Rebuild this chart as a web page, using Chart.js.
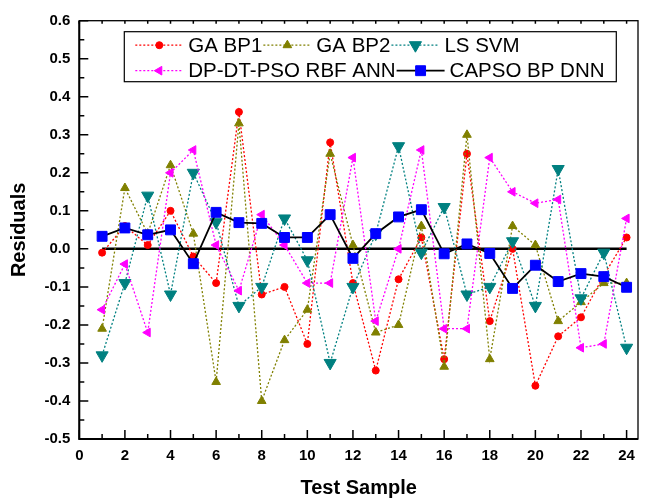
<!DOCTYPE html>
<html>
<head>
<meta charset="utf-8">
<script src="https://cdn.jsdelivr.net/npm/chart.js@4.4.1/dist/chart.umd.min.js"></script>
<style>
    html, body { margin: 0; padding: 0; background: #fff; }
    #wrap { width: 646px; height: 498px; }
</style>
</head>
<body>
<div id="wrap"><canvas id="residualChart" width="646" height="498"></canvas></div>
<script>
var testSamples = [1, 2, 3, 4, 5, 6, 7, 8, 9, 10, 11, 12, 13, 14, 15, 16, 17, 18, 19, 20, 21, 22, 23, 24];
var gaBp1 = [-0.01, 0.06, 0.01, 0.10, -0.02, -0.09, 0.36, -0.12, -0.10, -0.25, 0.28, -0.09, -0.32, -0.08, 0.03, -0.29, 0.25, -0.19, 0.00, -0.36, -0.23, -0.18, -0.07, 0.03];
var gaBp2 = [-0.21, 0.16, 0.04, 0.22, 0.04, -0.35, 0.33, -0.40, -0.24, -0.16, 0.25, 0.01, -0.22, -0.20, 0.06, -0.31, 0.30, -0.29, 0.06, 0.01, -0.19, -0.14, -0.09, -0.09];
var lsSvm = [-0.28, -0.09, 0.14, -0.12, 0.20, 0.07, -0.15, -0.10, 0.08, -0.03, -0.30, -0.10, 0.04, 0.27, -0.01, 0.11, -0.12, -0.10, 0.02, -0.15, 0.21, -0.13, -0.01, -0.26];
var dpDtPso = [-0.16, -0.04, -0.22, 0.20, 0.26, 0.01, -0.11, 0.09, 0.01, -0.09, -0.09, 0.24, -0.19, 0.00, 0.26, -0.21, -0.21, 0.24, 0.15, 0.12, 0.13, -0.26, -0.25, 0.08];
var capsoBpDnn = [0.033, 0.055, 0.037, 0.05, -0.039, 0.096, 0.069, 0.067, 0.03, 0.03, 0.09, -0.025, 0.04, 0.084, 0.103, -0.013, 0.013, -0.012, -0.104, -0.043, -0.086, -0.065, -0.073, -0.101];
var zeroLineX = [1, 24];
var zeroLineY = [0, 0];
var seriesNames = ['GA BP1', 'GA BP2', 'LS SVM', 'DP-DT-PSO RBF ANN', 'CAPSO BP DNN'];

function toPoints(xs, ys) {
    return xs.map(function (x, i) { return { x: x, y: ys[i] }; });
}

function makeSeries(label, values, color, lineColor, style, radius, rotation, dotted, order) {
    return {
        label: label,
        data: toPoints(testSamples, values),
        borderColor: lineColor,
        borderWidth: dotted ? 1.3 : 1.8,
        borderDash: dotted ? [2, 2] : [],
        backgroundColor: color,
        pointBackgroundColor: color,
        pointBorderColor: color,
        pointBorderWidth: 1,
        pointStyle: style,
        pointRadius: radius,
        pointRotation: rotation,
        tension: 0,
        fill: false,
        order: order
    };
}

var datasets = [
    makeSeries(seriesNames[0], gaBp1, '#ff0000', '#ff0000', 'circle', 3.5, 0, true, 5),
    makeSeries(seriesNames[1], gaBp2, '#808000', '#808000', 'triangle', 5, 0, true, 4),
    makeSeries(seriesNames[2], lsSvm, '#008080', '#008080', 'triangle', 7, 180, true, 3),
    makeSeries(seriesNames[3], dpDtPso, '#ff00ff', '#ff00ff', 'triangle', 5, -90, true, 2),
    makeSeries(seriesNames[4], capsoBpDnn, '#0000ff', '#000000', 'rect', 7, 0, false, 1),
    {
        label: 'zero',
        data: toPoints(zeroLineX, zeroLineY),
        borderColor: '#000000',
        borderWidth: 2.5,
        pointRadius: 0,
        fill: false,
        order: 6
    }
];

var framePlugin = {
    id: 'frame',
    afterDraw: function (chart) {
        var ctx = chart.ctx, a = chart.chartArea;
        var xs = chart.scales.x, ys = chart.scales.y;
        ctx.save();
        ctx.strokeStyle = '#000';
        ctx.lineWidth = 1.3;
        ctx.strokeRect(a.left, a.top, a.right - a.left, a.bottom - a.top);
        ctx.lineWidth = 2;
        ctx.beginPath();
        ctx.moveTo(a.left, a.top);
        ctx.lineTo(a.left, a.bottom);
        ctx.lineTo(a.right, a.bottom);
        ctx.stroke();
        ctx.lineWidth = 1.5;
        ctx.beginPath();
        for (var i = 0; i <= 24; i++) {
            var px = xs.getPixelForValue(i);
            var len = i % 2 === 0 ? 9 : 5;
            ctx.moveTo(px, a.bottom);
            ctx.lineTo(px, a.bottom - len);
            ctx.moveTo(px, a.top);
            ctx.lineTo(px, a.top + 3);
        }
        for (var k = -10; k <= 12; k++) {
            var py = ys.getPixelForValue(k * 0.05);
            var l2 = k % 2 === 0 ? 9 : 5;
            ctx.moveTo(a.left, py);
            ctx.lineTo(a.left + l2, py);
        }
        ctx.stroke();
        ctx.restore();
    }
};

var legendPlugin = {
    id: 'boxLegend',
    afterDatasetsDraw: function (chart) {
        var ctx = chart.ctx, a = chart.chartArea;
        var left = a.left + 45, top = a.top + 11, w = 492, h = 50;
        var rows = [[0, 1, 2], [3, 4]];
        var rowY = [top + 13.5, top + 39];
        ctx.save();
        ctx.fillStyle = '#fff';
        ctx.fillRect(left, top, w, h);
        ctx.strokeStyle = '#000';
        ctx.lineWidth = 1.2;
        ctx.strokeRect(left, top, w, h);
        ctx.font = '20.5px "Liberation Sans", Arial, sans-serif';
        ctx.textBaseline = 'middle';
        rows.forEach(function (row, r) {
            var x = left + 11, y = rowY[r];
            row.forEach(function (idx) {
                var ds = chart.data.datasets[idx];
                ctx.save();
                ctx.strokeStyle = ds.borderColor;
                ctx.lineWidth = ds.borderWidth;
                ctx.setLineDash(ds.borderDash);
                ctx.beginPath();
                ctx.moveTo(x, y);
                ctx.lineTo(x + 48, y);
                ctx.stroke();
                ctx.setLineDash([]);
                ctx.fillStyle = ds.pointBackgroundColor;
                ctx.strokeStyle = ds.pointBorderColor;
                ctx.lineWidth = 1;
                Chart.helpers.drawPoint(ctx, {
                    pointStyle: ds.pointStyle,
                    radius: ds.pointRadius,
                    rotation: ds.pointRotation,
                    borderWidth: 1
                }, x + 24, y);
                ctx.restore();
                ctx.fillStyle = '#000';
                ctx.fillText(ds.label, x + 53, y + 1);
                x += 53 + ctx.measureText(ds.label).width + 1;
            });
        });
        ctx.restore();
    }
};

var ctx = document.getElementById('residualChart').getContext('2d');
var chart = new Chart(ctx, {
    type: 'line',
    data: { datasets: datasets },
    options: {
        responsive: false,
        animation: false,
        devicePixelRatio: 1,
        layout: { padding: { left: 0, top: 20.7, right: 5, bottom: 0 } },
        plugins: {
            legend: { display: false },
            tooltip: { enabled: false }
        },
        scales: {
            x: {
                type: 'linear',
                min: 0,
                max: 24.5,
                grid: { display: false, drawTicks: false },
                border: { display: false },
                ticks: {
                    stepSize: 2,
                    includeBounds: false,
                    padding: 8,
                    color: '#000',
                    font: { family: '"Liberation Sans", Arial, sans-serif', size: 15, weight: 'bold' },
                    maxRotation: 0
                },
                title: {
                    display: true,
                    text: 'Test Sample',
                    color: '#000',
                    padding: { top: 0, bottom: -2 },
                    font: { family: '"Liberation Sans", Arial, sans-serif', size: 20, weight: 'bold' }
                },
                afterFit: function (scale) { scale.height = 59; }
            },
            y: {
                type: 'linear',
                min: -0.5,
                max: 0.6,
                grid: { display: false, drawTicks: false },
                border: { display: false },
                ticks: {
                    stepSize: 0.1,
                    padding: 9,
                    color: '#000',
                    font: { family: '"Liberation Sans", Arial, sans-serif', size: 15, weight: 'bold' },
                    callback: function (value) { return value.toFixed(1); }
                },
                title: {
                    display: true,
                    text: 'Residuals',
                    color: '#000',
                    padding: { top: 7.5, bottom: 0 },
                    font: { family: '"Liberation Sans", Arial, sans-serif', size: 20, weight: 'bold' }
                },
                afterFit: function (scale) { scale.width = 79.3; }
            }
        }
    },
    plugins: [legendPlugin, framePlugin]
});
</script>
</body>
</html>
